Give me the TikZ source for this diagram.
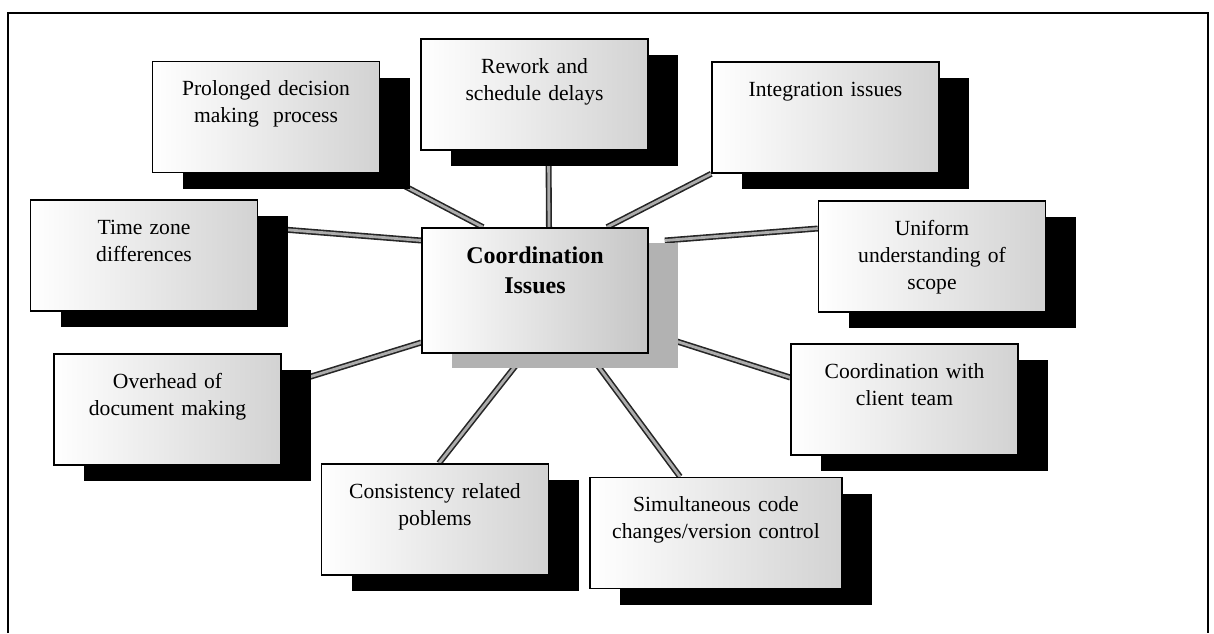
\documentclass[tikz,border=0pt]{standalone}
\usepackage{fontspec}
\setmainfont{Liberation Serif}
\usetikzlibrary{shadows,backgrounds}

\tikzset{
  box/.style={draw=black, line width=0.8pt, rectangle, inner sep=0pt,
    minimum width=113.5pt, minimum height=55.5pt, text width=113.5pt,
    align=center, text height=17pt, text depth=38.5pt,
    font=\fontsize{10.8}{13.5}\selectfont,
    left color=white, right color=gray!35},
  issue/.style={box,
    drop shadow={shadow xshift=15pt, shadow yshift=-8pt, opacity=1, fill=black}},
  hub/.style={box, minimum width=113pt, minimum height=62.5pt, text width=113pt,
    text height=17.5pt, text depth=45pt, font=\bfseries\fontsize{12}{15}\selectfont,
    right color=gray!45,
    drop shadow={shadow xshift=15pt, shadow yshift=-7.5pt, opacity=1, fill=gray!60}},
  link/.style={draw=black!85, double=gray!65, double distance=1.4pt, line width=0.8pt}
}

\begin{document}
\begin{tikzpicture}[x=0.5pt,y=-0.5pt]
	\useasboundingbox (0,0) rectangle (1214,633);
	\draw[line width=1pt] (7.5,633) -- (7.5,13) -- (1208,13) -- (1208,633);
	% centre
	\node[hub] (ci) at (535,290.5) {Coordination\\Issues};
	% issues round it
	\node[issue] (pd) at (266,117) {Prolonged decision\\making\ \ process};
	\node[issue] (rw) at (534.5,94.5) {Rework and\\schedule delays};
	\node[issue] (ig) at (825.5,117.5) {Integration issues};
	\node[issue] (tz) at (144,255.5) {Time zone\\differences};
	\node[issue] (uu) at (932,256.5) {Uniform\\understanding of\\scope};
	\node[issue] (od) at (167.5,409.5) {Overhead of\\document making};
	\node[issue] (ct) at (904.5,399.5) {Coordination with\\client team};
	\node[issue] (cr) at (435,519.5) {Consistency related\\poblems};
	\node[issue, minimum width=126pt, text width=126pt] (sc) at (716,533) {Simultaneous code\\changes/version control};
	\begin{scope}[on background layer]
		\draw[link] (pd.south east) -- ([xshift=-26pt]ci.north);
		\draw[link] ([xshift=7pt]rw.south) -- ([xshift=7pt]ci.north);
		\draw[link] (ig.south west) -- ([xshift=36pt]ci.north);
		\draw[link] ([yshift=14pt]tz.east) -- ([yshift=25pt]ci.west);
		\draw[link] ([yshift=14pt]uu.west) -- ([xshift=8pt,yshift=25pt]ci.east);
		\draw[link] ([yshift=12pt]od.east) -- ([yshift=-26pt]ci.west);
		\draw[link] ([yshift=11pt]ct.west) -- ([yshift=-21pt]ci.east);
		\draw[link] ([xshift=2pt]cr.north) -- ([xshift=-5pt]ci.south);
		\draw[link] ([xshift=-18pt]sc.north) -- ([xshift=27pt]ci.south);
	\end{scope}
\end{tikzpicture}
\end{document}
